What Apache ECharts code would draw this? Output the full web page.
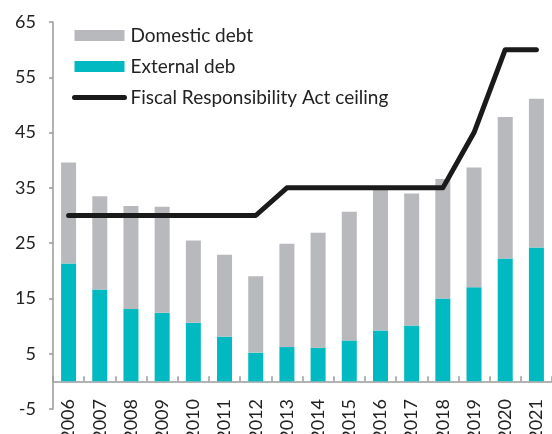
<!DOCTYPE html>
<html>
<head>
<meta charset="utf-8">
<script src="https://cdn.jsdelivr.net/npm/echarts@6/dist/echarts.min.js"></script>
<style>
  html, body { margin: 0; padding: 0; background: #fff; }
  #chart { width: 552px; height: 434px; }
</style>
</head>
<body>
<div id="chart"></div>
<script>
// Public debt composition (% of GDP) and the statutory ceiling
const years = ['2006', '2007', '2008', '2009', '2010', '2011', '2012', '2013',
               '2014', '2015', '2016', '2017', '2018', '2019', '2020', '2021'];
const externalDebt = [21.3, 16.6, 13.1, 12.4, 10.6, 8.1, 5.2, 6.2,
                      6.1, 7.4, 9.2, 10.1, 15.0, 17.0, 22.2, 24.2];
const domesticDebt = [18.3, 16.9, 18.6, 19.2, 14.9, 14.8, 13.8, 18.7,
                      20.8, 23.3, 25.8, 23.9, 21.6, 21.7, 25.6, 26.9];
const ceiling = [30, 30, 30, 30, 30, 30, 30, 35,
                 35, 35, 35, 35, 35, 45, 60, 60];
const yTicks = { min: -5, max: 65, step: 10 };

const FONT = 'Lato';
const TEXT = '#222222';
const AXIS = '#9a9a9a';

const chart = echarts.init(document.getElementById('chart'), null, { renderer: 'canvas' });

chart.setOption({
  animation: false,
  backgroundColor: '#ffffff',
  textStyle: { fontFamily: FONT, color: TEXT },
  grid: { left: 53, right: 0, top: 22, bottom: 25, containLabel: false, outerBoundsMode: 'none' },
  legend: {
    orient: 'vertical',
    left: 67,
    top: 21,
    itemWidth: 50,
    itemHeight: 11,
    itemGap: 12,
    lineStyle: { width: 5, cap: 'round' },
    textStyle: { fontFamily: FONT, fontSize: 19, color: TEXT, padding: [0, 0, 0, 1] },
    data: [
      { name: 'Domestic debt', icon: 'rect' },
      { name: 'External deb', icon: 'rect' },
      { name: 'Fiscal Responsibility Act ceiling', itemStyle: { opacity: 0 } }
    ]
  },
  xAxis: {
    type: 'category',
    data: years,
    boundaryGap: true,
    axisLine: { onZero: true, lineStyle: { color: AXIS, width: 1.5 } },
    axisTick: { show: true, inside: true, length: 5, alignWithLabel: false, lineStyle: { color: AXIS, width: 1.5 } },
    axisLabel: { rotate: 90, margin: -10, fontFamily: FONT, fontSize: 18, color: TEXT, interval: 0 }
  },
  yAxis: {
    type: 'value',
    min: yTicks.min,
    max: yTicks.max,
    interval: yTicks.step,
    splitLine: { show: false },
    axisLine: { show: true, lineStyle: { color: AXIS, width: 1.5 } },
    axisTick: { show: true, length: 4, lineStyle: { color: AXIS, width: 1.5 } },
    axisLabel: { margin: 17, fontFamily: FONT, fontSize: 18, color: TEXT }
  },
  series: [
    {
      name: 'External deb',
      type: 'bar',
      stack: 'debt',
      barWidth: 15,
      itemStyle: { color: '#00b9c1' },
      data: externalDebt
    },
    {
      name: 'Domestic debt',
      type: 'bar',
      stack: 'debt',
      barWidth: 15,
      itemStyle: { color: '#b8b9bc' },
      data: domesticDebt
    },
    {
      name: 'Fiscal Responsibility Act ceiling',
      type: 'line',
      symbol: 'none',
      z: 5,
      itemStyle: { color: '#1a1a1a' },
      lineStyle: { color: '#1a1a1a', width: 5, cap: 'round', join: 'round' },
      data: ceiling
    }
  ]
});
</script>
</body>
</html>
